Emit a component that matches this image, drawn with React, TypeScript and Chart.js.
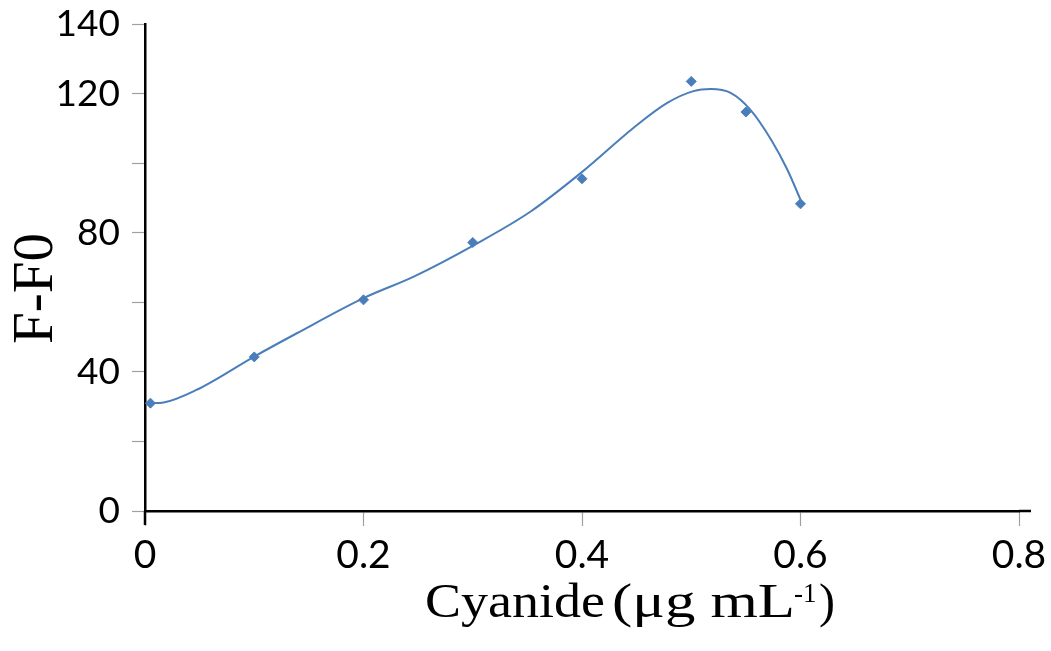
import { useEffect, useRef } from "react";
import { Chart, registerables } from "chart.js";

Chart.register(...registerables);

// Measured points (Cyanide concentration vs F-F0)
const markerX = [0.005, 0.1, 0.2, 0.3, 0.4, 0.5, 0.55, 0.6];
const markerY = [31, 44.3, 60.7, 77.2, 95.5, 123.5, 114.7, 88.3];

// Smoothed fit curve
const curveX = [0.006, 0.017, 0.047, 0.1, 0.139, 0.2, 0.246, 0.302, 0.353, 0.401, 0.447, 0.478, 0.502, 0.518, 0.536, 0.554, 0.573, 0.588, 0.6];
const curveY = [31, 31.2, 34.8, 44.4, 51.1, 61.2, 67.4, 76.6, 86.1, 97.7, 110.1, 117.3, 120.7, 121.3, 120.2, 115.4, 106.8, 98.1, 89.5];

const yLabelled = [0, 40, 80, 120, 140];
const yTitle = "F-F0";
const xTitleMain = "Cyanide";
const xTitleUnit = "(μg mL";
const xTitleSup = "-1";
const xTitleClose = ")";

const BLUE = "#4a7ebb";
const TICK_FONT = "Lato, 'Open Sans', sans-serif";
const SERIF = "'Liberation Serif', 'Times New Roman', serif";

function drawFit(ctx: CanvasRenderingContext2D, text: string, font: string, x: number, baseline: number, width: number | null) {
  ctx.save();
  ctx.font = font;
  ctx.textAlign = "left";
  ctx.textBaseline = "alphabetic";
  const w = ctx.measureText(text).width;
  const sx = width ? width / w : 1;
  ctx.translate(x, baseline);
  ctx.scale(sx, 1);
  ctx.fillText(text, 0, 0);
  ctx.restore();
}

const titlePlugin = {
  id: "axisTitles",
  afterDraw(chart: any) {
    const ctx: CanvasRenderingContext2D = chart.ctx;
    const a = chart.chartArea;
    ctx.save();
    // small axis overhangs
    ctx.strokeStyle = "#000";
    ctx.lineWidth = 2.5;
    ctx.beginPath();
    ctx.moveTo(a.right, a.bottom);
    ctx.lineTo(a.right + 12, a.bottom);
    ctx.moveTo(a.left, a.bottom);
    ctx.lineTo(a.left, a.bottom + 14);
    ctx.stroke();
    ctx.fillStyle = "#000";
    // Y title, rotated
    ctx.save();
    ctx.font = `57px ${SERIF}`;
    ctx.textAlign = "center";
    ctx.textBaseline = "alphabetic";
    ctx.translate(a.left - 93, (a.top + a.bottom) / 2 + 21);
    ctx.rotate(-Math.PI / 2);
    ctx.fillText(yTitle, 0, 0);
    ctx.restore();
    // X title
    const base = a.bottom + 106;
    drawFit(ctx, xTitleMain, `48px ${SERIF}`, a.left + 280, base, 180);
    drawFit(ctx, xTitleUnit, `48px ${SERIF}`, a.left + 467, base, 183);
    drawFit(ctx, xTitleSup, `27px ${SERIF}`, a.left + 649, base - 15, null);
    drawFit(ctx, xTitleClose, `48px ${SERIF}`, a.left + 674, base, null);
    ctx.restore();
  },
};

export default function App() {
  const ref = useRef<HTMLCanvasElement | null>(null);
  useEffect(() => {
    if (!ref.current) return;
    const chart = new Chart(ref.current, {
      type: "scatter",
      data: {
        datasets: [
          {
            label: "points",
            data: markerX.map((x, i) => ({ x, y: markerY[i] })),
            showLine: false,
            pointStyle: "rectRot",
            pointRadius: 5,
            pointBackgroundColor: BLUE,
            pointBorderColor: BLUE,
            pointBorderWidth: 1,
            order: 0,
          },
          {
            label: "fit",
            data: curveX.map((x, i) => ({ x, y: curveY[i] })),
            showLine: true,
            pointRadius: 0,
            borderColor: BLUE,
            borderWidth: 2,
            cubicInterpolationMode: "monotone",
            fill: false,
            order: 1,
          },
        ],
      },
      options: {
        animation: false,
        responsive: true,
        maintainAspectRatio: false,
        layout: { padding: { left: 0, top: 24, right: 32, bottom: 0 } },
        plugins: { legend: { display: false }, tooltip: { enabled: false } },
        scales: {
          x: {
            type: "linear",
            min: 0,
            max: 0.8,
            afterFit: (s: any) => {
              s.height = 140;
              s.paddingLeft = 0;
              s.paddingRight = 0;
            },
            border: { display: true, color: "#000", width: 2.5 },
            grid: { drawOnChartArea: false, drawTicks: true, tickLength: 15, tickColor: "#a0a0a0", tickWidth: 1.2 },
            ticks: {
              stepSize: 0.2,
              autoSkip: false,
              maxRotation: 0,
              padding: 6,
              color: "#000",
              font: { family: TICK_FONT, size: 39 },
              callback: (v: any) => (Number(v) === 0 ? "0" : String(Number(Number(v).toFixed(1)))),
            },
          },
          y: {
            type: "linear",
            min: 0,
            max: 140,
            afterFit: (s: any) => {
              s.width = 145;
              s.paddingTop = 0;
              s.paddingBottom = 0;
            },
            border: { display: true, color: "#000", width: 2.5 },
            grid: { drawOnChartArea: false, drawTicks: true, tickLength: 13, tickColor: "#a0a0a0", tickWidth: 1.2 },
            ticks: {
              stepSize: 20,
              autoSkip: false,
              padding: 12,
              color: "#000",
              font: { family: TICK_FONT, size: 37 },
              callback: (v: any) => (yLabelled.includes(Number(v)) ? String(v) : ""),
            },
          },
        },
      },
      plugins: [titlePlugin],
    });
    return () => chart.destroy();
  }, []);
  return (
    <div style={{ position: "fixed", left: 0, top: 0, width: 1051, height: 651, background: "#fff" }}>
      <canvas ref={ref} />
    </div>
  );
}
